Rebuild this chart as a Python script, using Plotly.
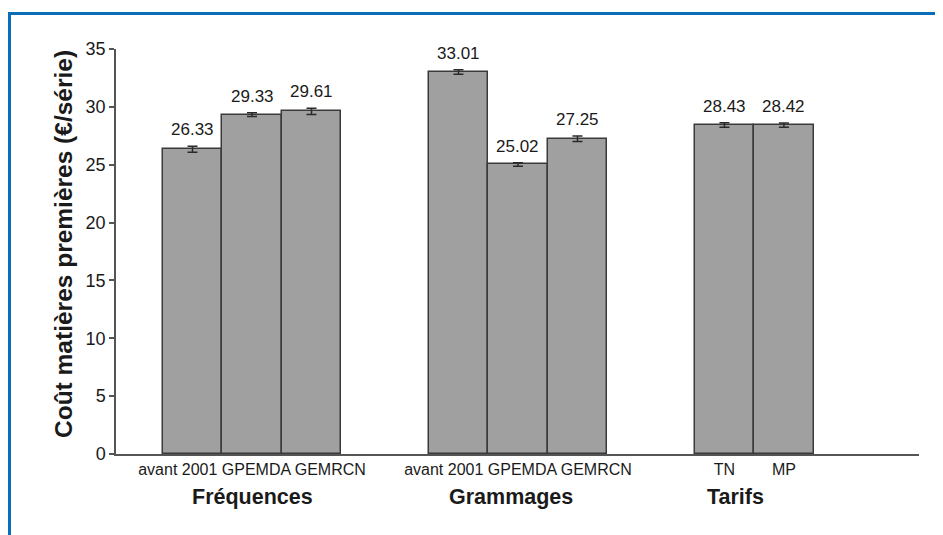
import plotly.graph_objects as go

# ---- data ----
groups = ["Fréquences", "Grammages", "Tarifs"]
group_categories = [["avant 2001", "GPEMDA", "GEMRCN"],
                    ["avant 2001", "GPEMDA", "GEMRCN"],
                    ["TN", "MP"]]
values = [[26.33, 29.33, 29.61],
          [33.01, 25.02, 27.25],
          [28.43, 28.42]]
errors = [[0.26, 0.17, 0.28],
          [0.20, 0.15, 0.24],
          [0.19, 0.18]]
y_ticks = [0, 5, 10, 15, 20, 25, 30, 35]
y_title = "Coût matières premières (€/série)"

# ---- layout constants ----
GROUP_STEP = 4.47          # distance between first bars of consecutive groups (bar units)
FONT = "Liberation Sans, Arial, Helvetica, sans-serif"
TXT = "#1a1a1a"
BAR_FILL = "#a0a0a0"
BAR_LINE = "#3a3a3a"
BLUE = "#0b6db5"
W, H = 943, 535
PAGE_OFF = 8               # default body margin of the html page
PLOT_W, PLOT_H = 803, 405
ML = 116 - PAGE_OFF
MT = 49 - PAGE_OFF
MR = W - ML - PLOT_W
MB = H - MT - PLOT_H
BAR_PX = 59.5

xs, ys, es, labels = [], [], [], []
tickvals, ticktext = [], []
group_centers = []
for g, (cats, vals, errs) in enumerate(zip(group_categories, values, errors)):
    pos = [g * GROUP_STEP + j for j in range(len(cats))]
    xs += pos
    ys += vals
    es += errs
    labels += [f"{v:.2f}" for v in vals]
    center = sum(pos) / len(pos)
    group_centers.append(center)
    if g == 2:
        tickvals += pos
        ticktext += cats
    else:
        tickvals.append(center)
        ticktext.append(" ".join(cats))

fig = go.Figure()
fig.add_trace(go.Bar(
    x=xs, y=ys, width=1.0,
    marker=dict(color=BAR_FILL, line=dict(color=BAR_LINE, width=1.5)),
    error_y=dict(type="data", array=es, visible=True,
                 color="#2a2a2a", thickness=1.5, width=5),
    hoverinfo="x+y",
))


def px_to_paper_x(px):
    return (px - PAGE_OFF - ML) / PLOT_W


def px_to_paper_y(py):
    return (MT + PLOT_H - (py - PAGE_OFF)) / PLOT_H


annotations = []
for x, y, e, t in zip(xs, ys, es, labels):
    annotations.append(dict(x=x, y=y + e, text=t, showarrow=False,
                            yanchor="bottom", yshift=5,
                            font=dict(family=FONT, size=17, color=TXT)))

group_label_offsets = [0.0, -0.11, -0.32]
for name, c, off in zip(groups, group_centers, group_label_offsets):
    annotations.append(dict(x=c + off, y=-0.105, xref="x", yref="paper",
                            text=f"<b>{name}</b>", showarrow=False,
                            yanchor="middle",
                            font=dict(family=FONT, size=21.5, color=TXT)))

annotations.append(dict(x=px_to_paper_x(63), y=px_to_paper_y(244),
                        xref="paper", yref="paper", textangle=-90,
                        text=f"<b>{y_title}</b>", showarrow=False,
                        xanchor="center", yanchor="middle",
                        font=dict(family=FONT, size=24.5, color=TXT)))

x0 = xs[0] - (192.5 - 116) / BAR_PX
x1 = x0 + PLOT_W / BAR_PX

shapes = [
    dict(type="line", xref="paper", yref="paper",
         x0=px_to_paper_x(8), x1=px_to_paper_x(W + 20),
         y0=px_to_paper_y(13.5), y1=px_to_paper_y(13.5),
         line=dict(color=BLUE, width=3)),
    dict(type="line", xref="paper", yref="paper",
         x0=px_to_paper_x(9.5), x1=px_to_paper_x(9.5),
         y0=px_to_paper_y(12), y1=px_to_paper_y(H + 20),
         line=dict(color=BLUE, width=3)),
]

fig.update_layout(
    width=W, height=H,
    margin=dict(l=ML, r=MR, t=MT, b=MB),
    paper_bgcolor="white", plot_bgcolor="white",
    showlegend=False,
    bargap=0,
    font=dict(family=FONT, color=TXT),
    annotations=annotations,
    shapes=shapes,
    xaxis=dict(range=[x0, x1], tickvals=tickvals, ticktext=ticktext,
               showgrid=False, zeroline=False, showline=True,
               linecolor="#555555", linewidth=2, ticks="",
               tickfont=dict(family=FONT, size=16, color=TXT),
               fixedrange=True),
    yaxis=dict(range=[0, 35], tickvals=y_ticks, showgrid=False,
               zeroline=False, showline=True, linecolor="#555555",
               linewidth=1.5, ticks="outside", ticklen=5,
               tickcolor="#555555", tickwidth=1.5,
               tickfont=dict(family=FONT, size=18, color=TXT),
               fixedrange=True),
)

fig.write_html("out.html")
